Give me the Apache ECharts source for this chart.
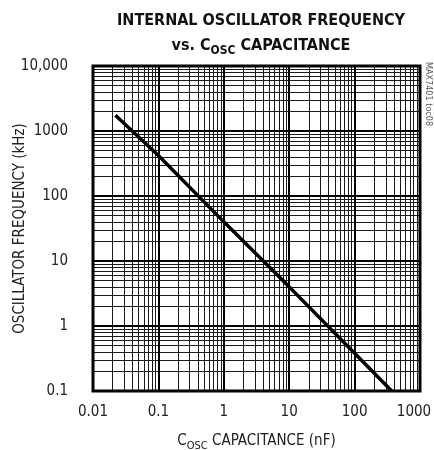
<!DOCTYPE html>
<html>
<head>
<meta charset="utf-8">
<script src="https://cdn.jsdelivr.net/npm/echarts@6/dist/echarts.min.js"></script>
<style>
html,body{margin:0;padding:0;background:#fff;}
#c{width:434px;height:450px;}
</style>
</head>
<body>
<div id="c"></div>
<script>
// Data
const capacitance_nF = [0.022, 0.1, 1, 10, 100, 370];
const frequency_kHz = [1750, 420, 40, 4, 0.38, 0.1];
const xTickLabels = ['0.01', '0.1', '1', '10', '100', '1000'];
const yTickLabels = ['0.1', '1', '10', '100', '1000', '10,000'];
const xDecades = [0.01, 0.1, 1, 10, 100];
const yDecades = [0.1, 1, 10, 100, 1000];
const minorMultipliers = [2, 3, 4, 5, 6, 7, 8, 9];

const FONT = "'Liberation Sans Narrow', 'DejaVu Sans Condensed', 'Liberation Sans', sans-serif";

const xMinor = [];
xDecades.forEach(d => minorMultipliers.forEach(m => xMinor.push(+(d * m).toPrecision(6))));
const yMinor = [];
yDecades.forEach(d => minorMultipliers.forEach(m => yMinor.push(+(d * m).toPrecision(6))));
const xMajor = xDecades.slice(1);
const yMajor = yDecades.slice(1);

function labelFor(v, min, labels) {
  const i = Math.round(Math.log10(v) - Math.log10(min));
  return labels[i] !== undefined ? labels[i] : '';
}

const chart = echarts.init(document.getElementById('c'));
chart.setOption({
  animation: false,
  backgroundColor: '#fff',
  title: {
    text: 'INTERNAL OSCILLATOR FREQUENCY\n{n|vs. C}{s|OSC}{n| CAPACITANCE}',
    left: 256,
    top: 5,
    textAlign: 'center',
    textStyle: {
      fontFamily: FONT, fontWeight: 'bold', fontSize: 16, color: '#111', lineHeight: 22,
      rich: {
        n: {fontFamily: FONT, fontWeight: 'bold', fontSize: 16, color: '#111', lineHeight: 22, verticalAlign: 'bottom'},
        s: {fontFamily: FONT, fontWeight: 'bold', fontSize: 12, color: '#111', lineHeight: 22, verticalAlign: 'bottom', padding: [0, 0, -3, 0]}
      }
    }
  },
  grid: {left: 93, right: 14, top: 66, bottom: 59, containLabel: false, outerBoundsMode: 'none'},
  xAxis: {
    type: 'log', logBase: 10, min: 0.01, max: 1000, splitNumber: 5,
    axisLine: {show: false}, axisTick: {show: false},
    splitLine: {show: false}, minorSplitLine: {show: false},
    axisLabel: {
      fontFamily: FONT, fontSize: 15, color: '#222', margin: 14,
      formatter: v => {
        const t = labelFor(v, 0.01, xTickLabels);
        return t === xTickLabels[xTickLabels.length - 1] ? '{r|' + t + '}' : t;
      },
      rich: {r: {fontFamily: FONT, fontSize: 15, color: '#222', padding: [0, 12, 0, 0]}}
    },
    name: '{n|C}{s|OSC}{n| CAPACITANCE (nF)}',
    nameLocation: 'middle', nameGap: 40,
    nameTextStyle: {
      rich: {
        n: {fontFamily: FONT, fontSize: 15, color: '#222', verticalAlign: 'bottom', lineHeight: 18},
        s: {fontFamily: FONT, fontSize: 11, color: '#222', verticalAlign: 'bottom', lineHeight: 18, padding: [0, 0, -3, 0]}
      }
    }
  },
  yAxis: {
    type: 'log', logBase: 10, min: 0.1, max: 10000, splitNumber: 5,
    axisLine: {show: false}, axisTick: {show: false},
    splitLine: {show: false},
    axisLabel: {
      fontFamily: FONT, fontSize: 15, color: '#222', margin: 25,
      formatter: v => labelFor(v, 0.1, yTickLabels)
    },
    name: 'OSCILLATOR FREQUENCY (kHz)',
    nameLocation: 'middle', nameGap: 65, nameRotate: 90, nameMoveOverlap: false,
    nameTextStyle: {fontFamily: FONT, fontSize: 15, color: '#222'}
  },
  graphic: [
    {
      type: 'text', x: 433, y: 62, rotation: -Math.PI / 2,
      style: {text: 'MAX7401 toc08', fontFamily: FONT, fontSize: 9, fill: '#555'}
    },
    {
      type: 'rect', shape: {x: 93, y: 66, width: 327, height: 325}, z: 100,
      style: {fill: 'none', stroke: '#000', lineWidth: 3}
    }
  ],
  series: [
    {
      type: 'line', data: [], silent: true, z: 1,
      markLine: {
        silent: true, symbol: 'none', animation: false,
        label: {show: false},
        lineStyle: {color: '#1a1a1a', width: 1, type: 'solid'},
        data: xMinor.map(v => ({xAxis: v})).concat(yMinor.map(v => ({yAxis: v})))
      }
    },
    {
      type: 'line', data: [], silent: true, z: 2,
      markLine: {
        silent: true, symbol: 'none', animation: false,
        label: {show: false},
        lineStyle: {color: '#000', width: 2, type: 'solid'},
        data: xMajor.map(v => ({xAxis: v})).concat(yMajor.map(v => ({yAxis: v})))
      }
    },
    {
      type: 'line', z: 10,
      data: capacitance_nF.map((c, i) => [c, frequency_kHz[i]]),
      showSymbol: false, symbol: 'none',
      lineStyle: {color: '#000', width: 3.5}
    }
  ]
});
</script>
</body>
</html>
